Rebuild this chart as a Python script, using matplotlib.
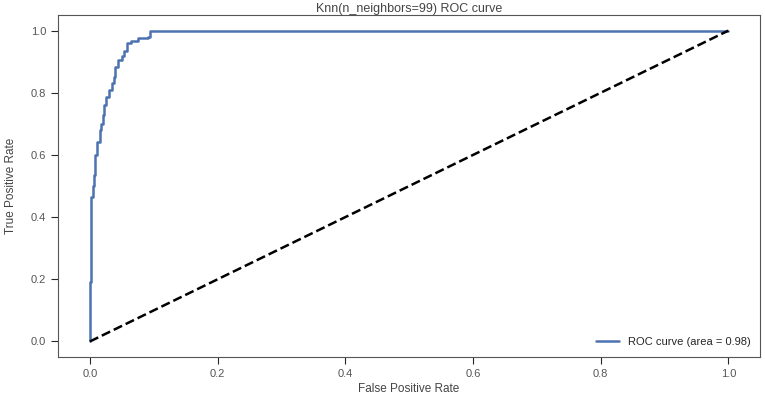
import matplotlib
matplotlib.use("Agg")
import matplotlib.pyplot as plt
import seaborn as sns

# ROC curve (staircase of fpr / tpr)
fpr = [0.000, 0.000, 0.001, 0.001, 0.002, 0.002, 0.005, 0.005, 0.007, 0.007,
       0.0085, 0.0085, 0.0115, 0.0115, 0.0157, 0.0157, 0.018, 0.018, 0.020, 0.020,
       0.022, 0.022, 0.025, 0.025, 0.030, 0.030, 0.034, 0.034, 0.037, 0.037,
       0.040, 0.040, 0.044, 0.044, 0.050, 0.050, 0.053, 0.053, 0.058, 0.058,
       0.064, 0.064, 0.075, 0.075, 0.091, 0.091, 0.094, 0.094, 1.000]
tpr = [0.000, 0.190, 0.190, 0.317, 0.317, 0.466, 0.466, 0.500, 0.500, 0.535,
       0.535, 0.600, 0.600, 0.643, 0.643, 0.680, 0.680, 0.700, 0.700, 0.730,
       0.730, 0.760, 0.760, 0.788, 0.788, 0.810, 0.810, 0.830, 0.830, 0.850,
       0.850, 0.884, 0.884, 0.906, 0.906, 0.920, 0.920, 0.933, 0.933, 0.960,
       0.960, 0.967, 0.967, 0.975, 0.975, 0.980, 0.980, 1.000, 1.000]
roc_auc = 0.98
title = "Knn(n_neighbors=99) ROC curve"

sns.set_style("ticks")
plt.rcParams["font.family"] = ["Liberation Sans", "DejaVu Sans"]

fig = plt.figure(figsize=(7.65, 4.08), dpi=100)
ax = fig.add_axes([0.0758, 0.125, 0.918, 0.838])

ax.plot(fpr, tpr, color="#4c72b0", lw=1.8, label="ROC curve (area = %0.2f)" % roc_auc)
ax.plot([0, 1], [0, 1], "k--", lw=1.8)
ax.set_xlim(-0.05, 1.05)
ax.set_ylim(-0.05, 1.05)
ax.set_xticks([0.0, 0.2, 0.4, 0.6, 0.8, 1.0])
ax.set_yticks([0.0, 0.2, 0.4, 0.6, 0.8, 1.0])
ax.tick_params(labelsize=8, length=5, colors="#262626")
for lab in ax.get_xticklabels() + ax.get_yticklabels():
    lab.set_color("#555555")
ax.set_xlabel("False Positive Rate", fontsize=8.5, color="#444444", labelpad=3)
ax.set_ylabel("True Positive Rate", fontsize=8.5, color="#444444", labelpad=10)
# title sits tight against the top edge, like the reference
ax.set_title(title, fontsize=9, color="#444444", pad=2)
ax.legend(loc="lower right", fontsize=8, frameon=False)
for s in ax.spines.values():
    s.set_color("#555555")

fig.savefig("out.png", dpi=100)
